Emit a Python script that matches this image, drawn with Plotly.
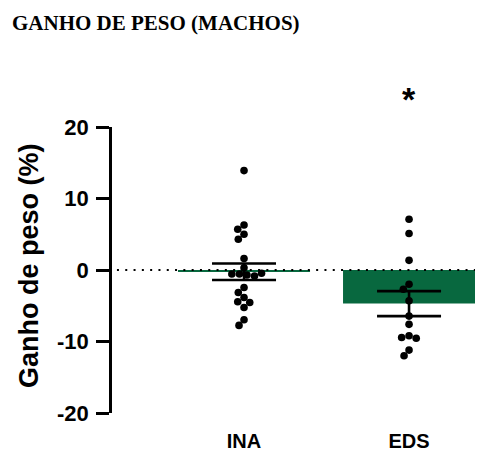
import math
import plotly.graph_objects as go

# ---- data ----
categories = ["INA", "EDS"]
means = [-0.25, -4.7]
sems = [1.15, 1.75]
ina_values = [13.9, 6.3, 5.7, 5.0, 4.3, 1.6, 0.3, -0.55, -0.7, -0.85, -0.55, -0.45,
              -2.45, -3.15, -3.85, -4.45, -4.55, -5.25, -6.95, -7.75]
eds_values = [7.1, 5.1, 1.35, -2.0, -2.7, -4.3, -6.45, -7.6, -9.2, -9.45, -9.55, -11.2, -12.0]
y_ticks = [-20, -10, 0, 10, 20]
title_text = "GANHO DE PESO (MACHOS)"
y_title = "Ganho de peso (%)"
significance = "*"

# ---- layout geometry (page body has an 8px margin) ----
OFF = 8
W, H = 483 - OFF, 452 - OFF
ML, MR, MT, MB = 112 - OFF, 3, 127 - OFF, 39
PW, PH = W - ML - MR, H - MT - MB
XR = [-0.8, 1.43]
YR = [-20, 20]
ppx = PW / (XR[1] - XR[0])
ppy = PH / (YR[1] - YR[0])
DOT = 7.6
GREEN = "#08683f"


def px_x(sx):
    """screen x -> paper x"""
    return (sx - OFF - ML) / PW


def px_y(sy):
    """screen y -> paper y"""
    return (H - MB - (sy - OFF)) / PH


def swarm(values, d):
    """Simple beeswarm: smallest horizontal offset (px) with no overlap."""
    placed = []
    offs = []
    for v in values:
        y = v * ppy
        cands = [0.0]
        for (px, py) in placed:
            dy = abs(py - y)
            if dy < d:
                dx = math.sqrt(d * d - dy * dy)
                cands += [px + dx, px - dx]
        cands.sort(key=lambda c: (abs(c), c))
        for c in cands:
            ok = all((c - px) ** 2 + (y - py) ** 2 >= d * d - 1e-6 for px, py in placed)
            if ok:
                break
        placed.append((c, y))
        offs.append(c / ppx)
    return offs


groups = [ina_values, eds_values]

fig = go.Figure()

fig.add_trace(go.Bar(
    x=[0, 1], y=means, width=0.8,
    marker=dict(color=GREEN, line=dict(width=0)),
    showlegend=False, hoverinfo="skip",
))

fig.add_trace(go.Scatter(
    x=[XR[0] + 0.03, XR[1]], y=[0, 0], mode="lines",
    line=dict(color="black", width=2.2, dash="2px,6.3px"),
    showlegend=False, hoverinfo="skip",
))

for i, vals in enumerate(groups):
    offs = swarm(vals, DOT)
    fig.add_trace(go.Scatter(
        x=[i + o for o in offs], y=vals, mode="markers",
        marker=dict(color="black", size=DOT, line=dict(width=0)),
        showlegend=False,
    ))

fig.add_trace(go.Scatter(
    x=[0, 1], y=means, mode="markers",
    marker=dict(size=0.1, color="rgba(0,0,0,0)"),
    error_y=dict(type="data", array=sems, symmetric=True, color="black",
                 thickness=2.6, width=32),
    showlegend=False, hoverinfo="skip",
))

fig.update_layout(
    width=W, height=H,
    margin=dict(l=ML, r=MR, t=MT, b=MB, pad=0, autoexpand=False),
    paper_bgcolor="white", plot_bgcolor="white",
    font=dict(family="Liberation Sans, Arial, sans-serif", color="black"),
    xaxis=dict(
        range=XR, tickvals=[0, 1], ticktext=categories, automargin=False,
        showline=False, showgrid=False, zeroline=False,
        ticks="", ticklabelstandoff=14,
        tickfont=dict(size=20, family="Liberation Sans, Arial, sans-serif", weight="bold"),
    ),
    yaxis=dict(
        range=YR, tickvals=y_ticks, ticktext=[str(t) for t in y_ticks], automargin=False,
        showline=True, linecolor="black", linewidth=2.6,
        showgrid=False, zeroline=False,
        ticks="outside", ticklen=13, tickwidth=2.6, tickcolor="black",
        ticklabelstandoff=3,
        tickfont=dict(size=22, family="Liberation Sans, Arial, sans-serif", weight="bold"),
    ),
    annotations=[
        dict(text=title_text, xref="paper", yref="paper", x=px_x(10), y=px_y(23),
             xanchor="left", yanchor="middle", showarrow=False,
             font=dict(family="Liberation Serif, Times New Roman, serif", size=21, weight="bold")),
        dict(text=y_title, xref="paper", yref="paper", textangle=-90,
             x=px_x(29), y=px_y(266),
             xanchor="center", yanchor="middle", showarrow=False,
             font=dict(size=27, weight="bold")),
        dict(text=significance, xref="x", yref="paper", x=1, y=px_y(99),
             xanchor="center", yanchor="middle", showarrow=False,
             font=dict(size=34, weight="bold")),
    ],
)

fig.write_html("out.html")
